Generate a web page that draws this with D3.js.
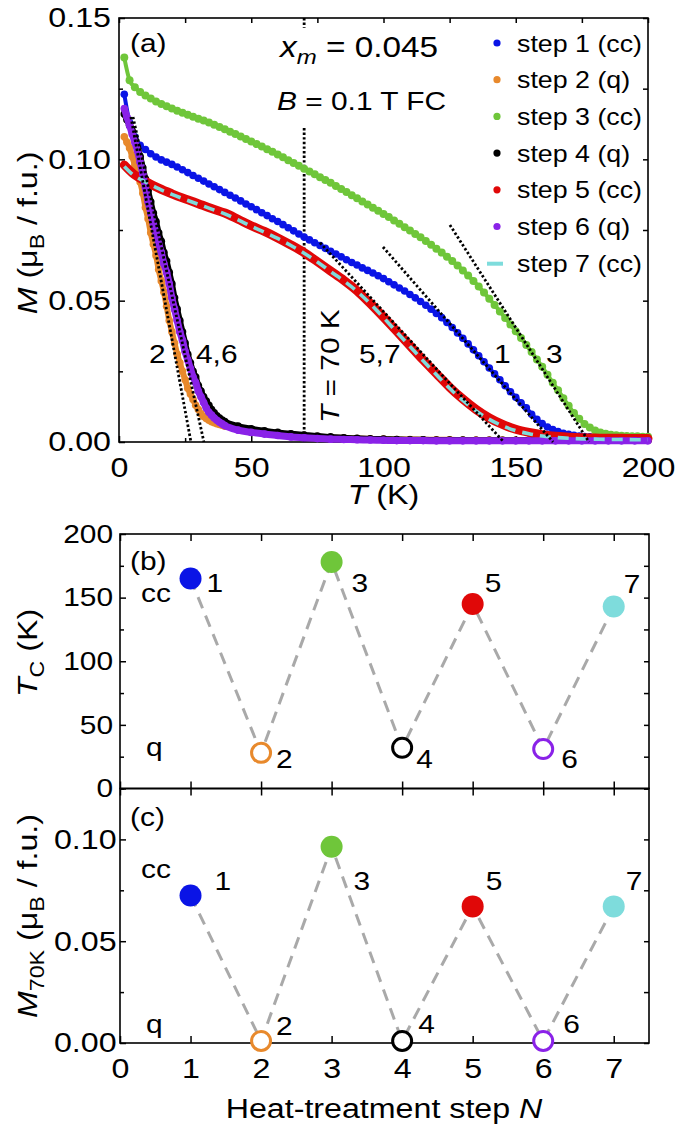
<!DOCTYPE html>
<html>
<head>
<meta charset="utf-8">
<script src="https://cdn.jsdelivr.net/npm/d3@7/dist/d3.min.js"></script>
<style>
html,body{margin:0;padding:0;background:#fff;}
svg{display:block;}
</style>
</head>
<body>
<svg id="fig" width="675" height="1131"></svg>
<script>
// ================= DATA =================
const stepNames = ["step 1 (cc)", "step 2 (q)", "step 3 (cc)", "step 4 (q)", "step 5 (cc)", "step 6 (q)", "step 7 (cc)"];
const stepColors = ["#0a14e6", "#e8892c", "#6fc63a", "#000000", "#e00808", "#8a22e8", "#7edcdc"];

// cooled (cc) scatter series, temperature grid (K)
const tempsCC = [2,4,6,8,10,12,14,16,18,20,22,24,26,28,30,32,34,36,38,40,
  42,44,46,48,50,52,54,56,58,60,62,64,66,68,70,72,74,76,78,80,
  82,84,86,88,90,92,94,96,98,100,102,104,106,108,110,112,114,116,118,120,
  122,124,126,128,130,132,134,136,138,140,142,144,146,148,150,152,154,156,158,160,
  162,164,166,168,170,172,174,176,178,180,182,184,186,188,190,192,194,196,198,200];
const magStep1 = [0.123,0.113,0.108,0.105,0.1035,0.102,0.1008,0.0998,0.099,0.0982,
  0.0973,0.0963,0.0953,0.0943,0.0933,0.0923,0.0913,0.0903,0.0893,0.0883,
  0.0873,0.0863,0.0853,0.0842,0.0832,0.0822,0.0811,0.0801,0.079,0.078,
  0.0769,0.0758,0.0747,0.0736,0.0725,0.0715,0.0705,0.0695,0.0685,0.0675,
  0.0665,0.0655,0.0645,0.0635,0.0626,0.0616,0.0607,0.0598,0.0588,0.0578,
  0.0567,0.0556,0.0545,0.0534,0.0522,0.051,0.0497,0.0484,0.047,0.0455,
  0.044,0.0423,0.0405,0.0386,0.0367,0.0347,0.0326,0.0305,0.0284,0.0262,
  0.0241,0.022,0.0199,0.0178,0.0158,0.0139,0.0121,0.0098,0.008,0.0065,
  0.0053,0.0044,0.0037,0.0031,0.0027,0.0024,0.0021,0.0019,0.0018,0.0017,
  0.0016,0.0016,0.0015,0.0015,0.0015,0.0014,0.0014,0.0014,0.0014,0.0014];
const magStep3 = [0.136,0.128,0.1255,0.1238,0.1226,0.1215,0.1205,0.1196,0.1188,0.118,
  0.1172,0.1165,0.1158,0.1151,0.1144,0.1137,0.113,0.1122,0.1114,0.1106,
  0.1098,0.109,0.1081,0.1072,0.1063,0.1054,0.1045,0.1036,0.1027,0.1017,
  0.1007,0.0997,0.0987,0.0977,0.0967,0.0957,0.0947,0.0937,0.0927,0.0917,
  0.0906,0.0895,0.0884,0.0873,0.0862,0.0851,0.084,0.0829,0.0818,0.0807,
  0.0796,0.0784,0.0772,0.076,0.0748,0.0736,0.0724,0.0711,0.0698,0.0684,
  0.067,0.0655,0.064,0.0624,0.0607,0.0589,0.057,0.055,0.0529,0.0507,
  0.0485,0.0462,0.0439,0.0416,0.0392,0.0368,0.0343,0.0318,0.0292,0.0266,
  0.0238,0.021,0.0183,0.0155,0.0128,0.0103,0.0082,0.0064,0.0051,0.0041,
  0.0034,0.0029,0.0026,0.0024,0.0022,0.0021,0.002,0.002,0.0019,0.0019];

// quenched (q) scatter series
const tempsQ = [2,3,4,5,6,7,8,9,10,11,12,13,14,15,16,17,18,19,20,21,22,23,24,25,26,27,28,29,30,
  31,32,33,34,35,36,37,38,39,40,
  45,50,55,60,65,70,75,80,85,90,95,100,105,110,115,120,125,130,135,140,145,150,155,160,
  165,170,175,180,185,190,195,200];
const magStep2 = [0.108,0.106,0.104,0.101,0.098,0.095,0.092,0.088,0.083,0.079,0.074,0.070,0.066,0.061,
  0.057,0.053,0.048,0.043,0.039,0.035,0.031,0.028,0.025,0.022,0.019,0.017,0.015,0.013,0.0115,
  0.010,0.009,0.0083,0.0077,0.0072,0.0068,0.0065,0.0062,0.0059,0.0056,
  0.0048,0.0042,0.0036,0.0031,0.0027,0.0023,0.0019,0.0016,
  0.0014,0.0012,0.0011,0.001,0.0009,0.0009,0.0008,0.0008,
  0.0008,0.0007,0.0007,0.0007,0.0007,0.0006,0.0006,0.0006,
  0.0006,0.0006,0.0006,0.0006,0.0006,0.0006,0.0006,0.0006];
const magStep4 = [0.116,0.114,0.112,0.110,0.107,0.104,0.101,0.097,0.093,0.089,0.085,0.081,0.078,0.074,
  0.071,0.067,0.064,0.060,0.056,0.051,0.047,0.043,0.039,0.035,0.031,0.028,0.025,0.023,0.020,
  0.018,0.016,0.0145,0.013,0.0115,0.0103,0.0093,0.0085,0.0078,0.0072,
  0.0056,0.0047,0.004,0.0034,0.0029,0.0025,0.0021,0.0018,
  0.0015,0.0013,0.0011,0.001,0.0009,0.0008,0.0008,0.0007,
  0.0007,0.0007,0.0006,0.0006,0.0006,0.0006,0.0006,0.0006,
  0.0006,0.0006,0.0006,0.0006,0.0006,0.0006,0.0006,0.0006];
const magStep6 = [0.118,0.115,0.112,0.109,0.106,0.103,0.099,0.095,0.090,0.085,0.081,0.077,0.074,0.070,
  0.067,0.063,0.060,0.056,0.051,0.047,0.043,0.039,0.036,0.032,0.029,0.026,0.023,0.021,0.018,
  0.016,0.014,0.012,0.0105,0.0095,0.0085,0.0077,0.007,0.0064,0.0058,
  0.0042,0.0034,0.0028,0.0023,0.0018,0.0015,0.0012,0.001,
  0.0009,0.0008,0.0007,0.0006,0.0005,0.0005,0.0005,0.0004,
  0.0004,0.0004,0.0004,0.0004,0.0004,0.0004,0.0004,0.0004,
  0.0004,0.0004,0.0004,0.0004,0.0004,0.0004,0.0004,0.0004];

// dense series drawn as lines (step 5 thick red, step 7 dashed cyan)
const tempsLine = [2,5,10,15,20,25,30,35,40,45,50,55,60,65,70,75,80,85,90,95,
  100,105,110,115,120,125,130,135,140,145,150,155,160,165,170,175,180,185,190,195,200];
const magStep5 = [0.098,0.0952,0.0922,0.0898,0.0878,0.086,0.0843,0.0826,0.081,0.0788,
  0.0765,0.0745,0.0722,0.0697,0.067,0.0638,0.0605,0.0572,0.0535,0.049,
  0.0442,0.0392,0.0341,0.029,0.0242,0.0194,0.0152,0.0115,0.0085,0.0062,
  0.0045,0.0034,0.0026,0.002,0.0017,0.0015,0.0014,0.0013,0.0013,0.0012,0.0012];
const magStep7 = [0.0975,0.0948,0.092,0.0896,0.0876,0.0858,0.0841,0.0824,0.0807,0.0786,
  0.0763,0.0742,0.072,0.0695,0.0668,0.0637,0.0603,0.057,0.0533,0.0489,
  0.044,0.0389,0.0338,0.0287,0.0238,0.019,0.0147,0.011,0.008,0.0057,
  0.004,0.0029,0.0021,0.0016,0.0013,0.0011,0.001,0.0009,0.0009,0.0008,0.0008];

// linear extrapolation (dotted) lines: [start, end]
const tangentNames = ["2", "4,6", "5,7", "1", "3"];
const tangentT = [[4.5, 27.2], [5.3, 32.1], [76, 145.5], [99.8, 164.1], [125.1, 177.7]];
const tangentM = [[0.115, 0], [0.115, 0], [0.0705, 0], [0.069, 0], [0.0768, 0]];
const markTemp = 70;

// panels (b), (c)
const stepN = [1, 2, 3, 4, 5, 6, 7];
const tcValues = [165, 28, 178, 32, 145, 31, 143];
const m70Values = [0.0724, 0.001, 0.0964, 0.001, 0.0671, 0.001, 0.0671];
const quenched = [false, true, false, true, false, true, false];

// ticks
const tMajor = [0, 50, 100, 150, 200], tMinor = [25, 75, 125, 175];
const mMajor = [0, 0.05, 0.10, 0.15], mMinor = [0.025, 0.075, 0.125];
const tcMajor = [0, 50, 100, 150, 200], tcMinor = [25, 75, 125, 175];
const m70Major = [0, 0.05, 0.10], m70Minor = [0.025, 0.075, 0.125];
const nTicks = [0, 1, 2, 3, 4, 5, 6, 7];

// ================= DRAWING =================
const svg = d3.select("#fig");
const SX = 1.15;
const FF = '"Liberation Sans", Arial, Helvetica, sans-serif';
const A = {l: 119, r: 648, t: 18, b: 442};
const B = {l: 120, r: 649, t: 534, b: 788.5};
const C = {l: 120, r: 649, t: 788.5, b: 1043};

function rich(x, y, parts, size, anchor, rot) {
  const t = svg.append("text")
    .attr("transform", `translate(${x},${y})` + (rot ? ` rotate(${rot})` : "") + ` scale(${SX},1)`)
    .attr("font-family", FF).attr("font-size", size)
    .attr("text-anchor", anchor || "start").attr("fill", "#000");
  let shift = 0;
  parts.forEach(p => {
    if (typeof p === "string") p = {t: p};
    const ts = t.append("tspan").text(p.t);
    if (p.i) ts.attr("font-style", "italic");
    const want = p.sub ? size * 0.25 : 0;
    if (want !== shift) { ts.attr("dy", want - shift); shift = want; }
    if (p.sub) ts.attr("font-size", size * 0.72);
  });
  return t;
}

function axis(gen, values, size, tr, fmt, fs, pad) {
  const a = gen.tickValues(values).tickSize(-size).tickSizeOuter(0).tickPadding(pad || 8)
    .tickFormat(fmt || (() => ""));
  const g = svg.append("g").attr("transform", tr).call(a);
  g.select(".domain").remove();
  g.selectAll("line").attr("stroke", "#000").attr("stroke-width", 1.5);
  g.selectAll("text").attr("font-family", FF).attr("font-size", fs || 28).attr("fill", "#000")
    .attr("transform", `scale(${SX},1)`);
  return g;
}

function frame(P) {
  svg.append("rect").attr("x", P.l).attr("y", P.t).attr("width", P.r - P.l).attr("height", P.b - P.t)
    .attr("fill", "none").attr("stroke", "#000").attr("stroke-width", 1.6);
}

// ---------- panel (a) ----------
const xA = d3.scaleLinear().domain([0, 200]).range([A.l, A.r]);
const yA = d3.scaleLinear().domain([0, 0.15]).range([A.b, A.t]);
frame(A);
axis(d3.axisBottom(xA), tMajor, 6, `translate(0,${A.b})`, d3.format("d"), 28, 15);
axis(d3.axisBottom(xA), tMinor, 4, `translate(0,${A.b})`);
axis(d3.axisTop(xA), tMajor.concat(tMinor), 5, `translate(0,${A.t})`);
axis(d3.axisLeft(yA), mMajor, 6, `translate(${A.l},0)`, d3.format(".2f"), 28, 7);
axis(d3.axisLeft(yA), mMinor, 4, `translate(${A.l},0)`);
axis(d3.axisRight(yA), mMajor.concat(mMinor), 5, `translate(${A.r},0)`);

// T = 70 K vertical dotted marker (interrupted behind the x_m label)
const dotted = {stroke: "#000", w: 2.8, dash: "2.4,2.2"};
[[A.t, A.t + 10], [128, A.b]].forEach(seg => {
  svg.append("line").attr("x1", xA(markTemp)).attr("x2", xA(markTemp))
    .attr("y1", seg[0]).attr("y2", seg[1])
    .attr("stroke", dotted.stroke).attr("stroke-width", dotted.w).attr("stroke-dasharray", dotted.dash);
});

const lineGen = (temps) => d3.line().x((d, i) => xA(temps[i])).y(d => yA(d)).curve(d3.curveMonotoneX);

function scatter(temps, vals, color, r, w) {
  svg.append("path").attr("d", lineGen(temps)(vals)).attr("fill", "none")
    .attr("stroke", color).attr("stroke-width", w).attr("stroke-linejoin", "round");
  svg.append("g").selectAll("circle").data(vals).join("circle")
    .attr("cx", (d, i) => xA(temps[i])).attr("cy", d => yA(d)).attr("r", r).attr("fill", color);
}

scatter(tempsCC, magStep1, stepColors[0], 3.8, 4);
scatter(tempsQ, magStep2, stepColors[1], 3.8, 6);
scatter(tempsCC, magStep3, stepColors[2], 4.0, 4);
scatter(tempsQ, magStep4, stepColors[3], 3.8, 6);
svg.append("path").attr("d", lineGen(tempsLine)(magStep5)).attr("fill", "none")
  .attr("stroke", stepColors[4]).attr("stroke-width", 9).attr("stroke-linecap", "round");
scatter(tempsQ, magStep6, stepColors[5], 3.8, 7);
svg.append("path").attr("d", lineGen(tempsLine)(magStep7)).attr("fill", "none")
  .attr("stroke", stepColors[6]).attr("stroke-width", 3.6).attr("stroke-dasharray", "11,7");

// dotted extrapolation lines
tangentT.forEach((tt, i) => {
  svg.append("line").attr("x1", xA(tt[0])).attr("x2", xA(tt[1]))
    .attr("y1", yA(tangentM[i][0])).attr("y2", yA(tangentM[i][1]))
    .attr("stroke", "#000").attr("stroke-width", dotted.w).attr("stroke-dasharray", dotted.dash);
});

// annotations in (a)
rich(130, 52, ["(a)"], 26);
rich(280, 57, [{t: "x", i: true}, {t: "m", i: true, sub: true}, " = 0.045"], 29);
rich(277, 110, [{t: "B", i: true}, " = 0.1 T FC"], 26);
rich(339, 423, [{t: "T", i: true}, " = 70 K"], 26, "start", -90);
const tangentLabelPos = [[149, 363], [196, 363], [359, 363], [494, 363], [546, 363]];
tangentNames.forEach((s, i) => rich(tangentLabelPos[i][0], tangentLabelPos[i][1], [s], 26));

// legend
stepNames.forEach((name, i) => {
  const by = 51.5 + i * 36.7;
  if (i === 6) {
    svg.append("line").attr("x1", 487).attr("x2", 503).attr("y1", by - 8).attr("y2", by - 8)
      .attr("stroke", stepColors[i]).attr("stroke-width", 4);
  } else {
    svg.append("circle").attr("cx", 497).attr("cy", by - 8.5).attr("r", 3.6).attr("fill", stepColors[i]);
  }
  rich(517, by, [name], 23.3);
});

// axis titles (a)
rich(383.5, 504, [{t: "T", i: true}, " (K)"], 28, "middle");
rich(37, 233, [{t: "M", i: true}, " (μ", {t: "B", sub: true}, " / f.u.)"], 28, "middle", -90);

// ---------- panel (b) ----------
const xB = d3.scaleLinear().domain([0, 7.5]).range([B.l, B.r]);
const yB = d3.scaleLinear().domain([0, 200]).range([B.b, B.t]);
frame(B);
axis(d3.axisLeft(yB), tcMajor, 6, `translate(${B.l},0)`, d3.format("d"), 26, 6);
axis(d3.axisLeft(yB), tcMinor, 4, `translate(${B.l},0)`);
axis(d3.axisRight(yB), tcMajor.concat(tcMinor), 5, `translate(${B.r},0)`);
axis(d3.axisTop(xB), nTicks, 7, `translate(0,${B.t})`);
axis(d3.axisBottom(xB), nTicks, 7, `translate(0,${B.b})`);

// ---------- panel (c) ----------
const xC = d3.scaleLinear().domain([0, 7.5]).range([C.l, C.r]);
const yC = d3.scaleLinear().domain([0, 0.125]).range([C.b, C.t]);
frame(C);
axis(d3.axisLeft(yC), m70Major, 6, `translate(${C.l},0)`, d3.format(".2f"), 28, 3);
axis(d3.axisLeft(yC), m70Minor, 4, `translate(${C.l},0)`);
axis(d3.axisRight(yC), m70Major.concat(m70Minor), 5, `translate(${C.r},0)`);
axis(d3.axisTop(xC), nTicks, 7, `translate(0,${C.t})`);
axis(d3.axisBottom(xC), nTicks, 7, `translate(0,${C.b})`, d3.format("d"), 28, 15);

function stepPanel(xs, ys, vals, labelOff, tag, tagY, ccY, qY) {
  const line = d3.line().x((d, i) => xs(stepN[i])).y(d => ys(d));
  svg.append("path").attr("d", line(vals)).attr("fill", "none").attr("stroke", "#a9a9a9")
    .attr("stroke-width", 3).attr("stroke-dasharray", "12,8");
  svg.append("g").selectAll("circle").data(vals).join("circle")
    .attr("cx", (d, i) => xs(stepN[i])).attr("cy", d => ys(d))
    .attr("r", (d, i) => quenched[i] ? 9.5 : 11)
    .attr("fill", (d, i) => quenched[i] ? "#fff" : stepColors[i])
    .attr("stroke", (d, i) => quenched[i] ? stepColors[i] : "none")
    .attr("stroke-width", 3);
  vals.forEach((v, i) => rich(xs(stepN[i]) + labelOff[i][0], ys(v) + labelOff[i][1], [String(stepN[i])], 26));
  rich(130, tagY, [tag], 26);
  rich(141, ccY, ["cc"], 26);
  rich(146, qY, ["q"], 26);
}
stepPanel(xB, yB, tcValues,
  [[16, 13], [15, 15], [20, 30], [14, 20], [12, -12], [18, 19], [10, -14]],
  "(b)", 570, 602, 756);
stepPanel(xC, yC, m70Values,
  [[24, -6], [15, -6], [22, 43], [16, -8], [13, -16], [20, -8], [12, -16]],
  "(c)", 826, 878, 1033);

rich(37, 653, [{t: "T", i: true}, {t: "C", sub: true}, " (K)"], 28, "middle", -90);
rich(37, 916, [{t: "M", i: true}, {t: "70K", sub: true}, " (μ", {t: "B", sub: true}, " / f.u.)"], 28, "middle", -90);
rich(384, 1118, ["Heat-treatment step ", {t: "N", i: true}], 28, "middle");
</script>
</body>
</html>
